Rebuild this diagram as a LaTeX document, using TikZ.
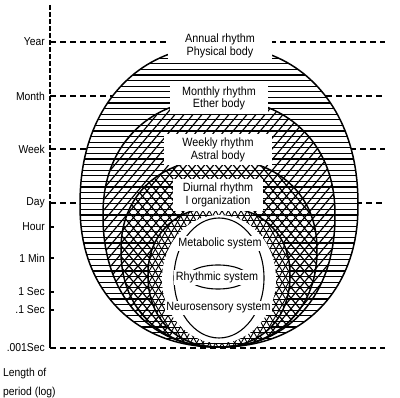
\documentclass[tikz,border=0pt]{standalone}
\usepackage{fontspec}
\setmainfont{Liberation Sans}[FakeStretch=0.9]
\begin{document}
\begin{tikzpicture}[x=1pt,y=-1pt,
  dsh/.style={line width=1.3pt, dash pattern=on 6pt off 4pt},
  axisline/.style={line width=1.3pt},
  tick/.style={line width=1.2pt},
  axl/.style={anchor=east, inner sep=0pt, font=\fontsize{11.5}{12}\selectfont},
  lbl/.style={fill=white, inner sep=1.5pt, align=center, font=\fontsize{12}{12.5}\selectfont},
  sys/.style={fill=white, inner sep=1.5pt, font=\fontsize{12}{12.5}\selectfont},
  hline/.style={line width=1.3pt},
  dline/.style={line width=1.15pt},
  mesh/.style={line width=0.9pt},
  bound/.style={line width=1.5pt},
  thin/.style={line width=1.1pt}]
\useasboundingbox (0,0) rectangle (400,398);

% rounded "egg" outlines: upper and lower slightly super-elliptic halves
\def\pathA{plot[domain=0:180,samples=90,variable=\t] ({219+139*cos(\t)*pow(abs(cos(\t))+0.00001,-0.08)},{205-159*sin(\t)*pow(abs(sin(\t))+0.00001,-0.08)}) -- plot[domain=180:360,samples=90,variable=\t] ({219+139*cos(\t)*pow(abs(cos(\t))+0.00001,-0.08)},{205-142*sin(\t)*pow(abs(sin(\t))+0.00001,-0.08)}) -- cycle}
\def\pathB{plot[domain=0:180,samples=90,variable=\t] ({219+116*cos(\t)*pow(abs(cos(\t))+0.00001,-0.08)},{215-116*sin(\t)*pow(abs(sin(\t))+0.00001,-0.08)}) -- plot[domain=180:360,samples=90,variable=\t] ({219+116*cos(\t)*pow(abs(cos(\t))+0.00001,-0.08)},{215-132*sin(\t)*pow(abs(sin(\t))+0.00001,-0.08)}) -- cycle}
\def\pathC{plot[domain=0:180,samples=90,variable=\t] ({219+98*cos(\t)*pow(abs(cos(\t))+0.00001,-0.08)},{250-91*sin(\t)*pow(abs(sin(\t))+0.00001,-0.08)}) -- plot[domain=180:360,samples=90,variable=\t] ({219+98*cos(\t)*pow(abs(cos(\t))+0.00001,-0.08)},{250-97*sin(\t)*pow(abs(sin(\t))+0.00001,-0.08)}) -- cycle}
\def\pathD{plot[domain=0:180,samples=90,variable=\t] ({219+71*cos(\t)*pow(abs(cos(\t))+0.00001,-0.08)},{275-68*sin(\t)*pow(abs(sin(\t))+0.00001,-0.08)}) -- plot[domain=180:360,samples=90,variable=\t] ({219+71*cos(\t)*pow(abs(cos(\t))+0.00001,-0.08)},{275-72*sin(\t)*pow(abs(sin(\t))+0.00001,-0.08)}) -- cycle}

% axis coordinates
\coordinate (top) at (50,5);
\coordinate (tYear) at (50,42);
\coordinate (tMonth) at (50,96);
\coordinate (tWeek) at (50,149);
\coordinate (tDay) at (50,203);
\coordinate (tHour) at (50,227);
\coordinate (tMin) at (50,258);
\coordinate (tSec) at (50,292);
\coordinate (tdSec) at (50,310);
\coordinate (tmSec) at (50,348);
\coordinate (aMonthL) at (112,96);
\coordinate (aMonthR) at (326,96);
\coordinate (aWeekL) at (88,149);
\coordinate (aWeekR) at (350,149);
\coordinate (aDayL) at (82,203);
\coordinate (aDayR) at (356,203);
\coordinate (eYear) at (385,42);
\coordinate (eMonth) at (385,96);
\coordinate (eWeek) at (385,149);
\coordinate (eDay) at (385,203);
\coordinate (emSec) at (385,348);

% dashed period lines
\draw[dsh] (tYear) -- (eYear);
\draw[dsh] (tMonth) -- (aMonthL);
\draw[dsh] (aMonthR) -- (eMonth);
\draw[dsh] (tWeek) -- (aWeekL);
\draw[dsh] (aWeekR) -- (eWeek);
\draw[dsh] (tDay) -- (aDayL);
\draw[dsh] (aDayR) -- (eDay);
\draw[dsh] (tmSec) -- (emSec);

% axis
\draw[axisline, dash pattern=on 5pt off 2pt] (top) -- (tDay);
\draw[axisline] (tDay) -- (tmSec);
\foreach \c in {tYear,tMonth,tWeek,tDay,tHour,tMin,tSec,tdSec}
  \draw[tick] (\c) -- ++(4,0);

% axis labels
\node[axl] (lYear) at (45,42) {Year};
\node[axl] (lMonth) at (45,96) {Month};
\node[axl] (lWeek) at (45,149) {Week};
\node[axl] (lDay) at (45,203) {Day};
\node[axl] (lHour) at (45,227) {Hour};
\node[axl] (lMin) at (45,258) {1 Min};
\node[axl] (lSec) at (45,292) {1 Sec};
\node[axl] (ldSec) at (45,310) {.1 Sec};
\node[axl] (lmSec) at (45,348) {.001Sec};
\node[anchor=west, inner sep=0pt, align=left, font=\fontsize{11.5}{18.5}\selectfont] (lLen) at (3,383) {Length of\\period (log)};

% A: physical body -- horizontal hatching
\fill[white] \pathA;
\begin{scope}
  \clip \pathA;
  \foreach \y in {47,52.6,...,350} \draw[hline] (70,\y) -- (370,\y);
\end{scope}
% B: ether body -- rising diagonals
\begin{scope}
  \clip \pathB;
  \foreach \x in {-130,-121,...,345} \draw[dline] (\x,360) -- ++(226.6,-270);
\end{scope}
% C: astral body -- falling diagonals
\begin{scope}
  \clip \pathC;
  \foreach \x in {100,109,...,560} \draw[dline] (\x,360) -- ++(-226.6,-270);
\end{scope}
% D: I organization -- dense mesh
\fill[white] \pathD;
\begin{scope}
  \clip \pathD;
  \foreach \y in {47,52.6,...,350} \draw[mesh] (140,\y) -- (300,\y);
  \foreach \x in {50,56.35,...,300} \draw[mesh] (\x,355) -- ++(95,-165);
  \foreach \x in {140,146.35,...,390} \draw[mesh] (\x,355) -- ++(-95,-165);
\end{scope}

\draw[bound] \pathA;
\draw[bound] \pathB;
\draw[bound] \pathC;
\draw[bound] \pathD;

% inner white field and the three systems
\fill[white] (219,279) ellipse [x radius=57pt, y radius=64pt];
\draw[thin] (219,278) ellipse [x radius=45pt, y radius=60pt];
\draw[thin] (218,277) ellipse [x radius=30pt, y radius=12pt];

% labels
\node[lbl, minimum width=104pt, minimum height=34pt] (phys) at (220,46) {Annual rhythm\\Physical body};
\node[lbl, minimum width=98pt, minimum height=31pt] (ether) at (219,98.5) {Monthly rhythm\\Ether body};
\node[lbl, minimum width=108pt, minimum height=31pt] (astral) at (218,150) {Weekly rhythm\\Astral body};
\node[lbl, minimum width=90pt, minimum height=32pt] (iorg) at (218,195) {Diurnal rhythm\\I organization};
\node[sys] (meta) at (220,243.5) {Metabolic system};
\node[sys] (rhyth) at (217,277.5) {Rhythmic system};
\node[sys] (neuro) at (218.5,308) {Neurosensory system};
\end{tikzpicture}
\end{document}
